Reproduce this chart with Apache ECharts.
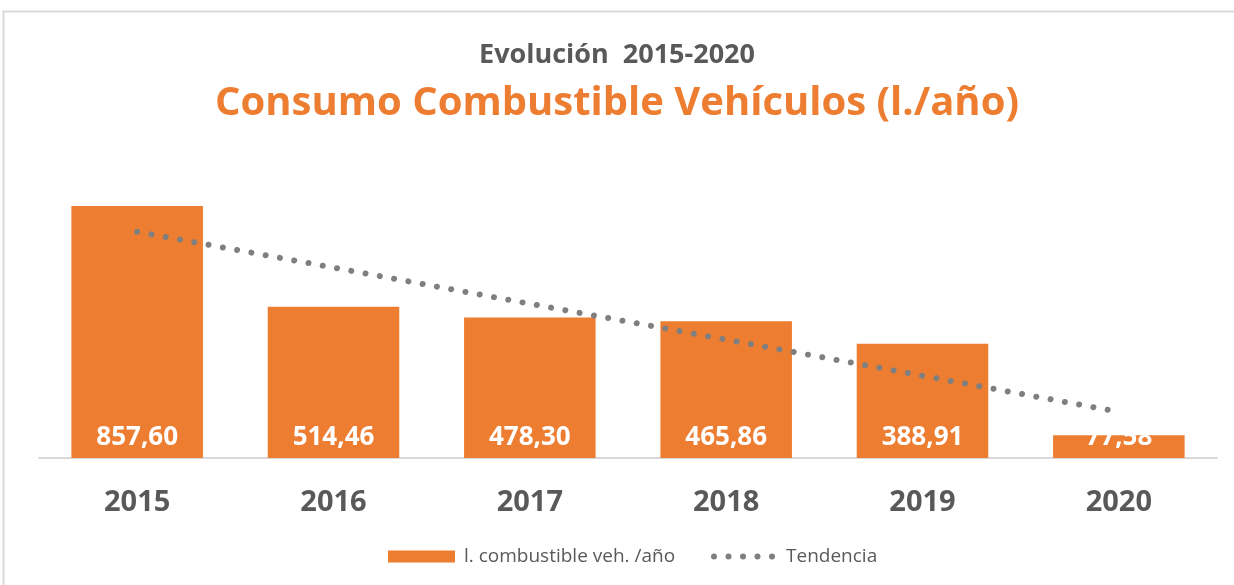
<!DOCTYPE html>
<html>
<head>
<meta charset="utf-8">
<script src="https://cdn.jsdelivr.net/npm/echarts@6/dist/echarts.min.js"></script>
<style>
  html,body{margin:0;padding:0;background:#fff;}
  #chart{width:1234px;height:585px;}
</style>
</head>
<body>
<div id="chart"></div>
<script>
// datos
var years = ['2015', '2016', '2017', '2018', '2019', '2020'];
var consumo = [857.60, 514.46, 478.30, 465.86, 388.91, 77.58];
// tendencia (línea punteada) estimada sobre la imagen
var tendencia = [770, 648, 525, 403, 280, 157];

var naranja = '#ED7D31';
var gris = '#595959';
var fuente = 'Open Sans';

// icono de leyenda: 5 puntos
var puntos = 'path://';
for (var i = 0; i < 5; i++) {
  var cx = i * 14.5;
  puntos += 'M' + cx + ',3a3,3 0 1,0 6,0a3,3 0 1,0 -6,0';
}

var chart = echarts.init(document.getElementById('chart'));

function fmt(v) {
  return v.toFixed(2).replace('.', ',');
}

chart.setOption({
  animation: false,
  textStyle: { fontFamily: fuente },
  graphic: [{
    type: 'rect',
    shape: { x: 3.5, y: 11.5, width: 1240, height: 600 },
    style: { fill: 'none', stroke: '#d9d9d9', lineWidth: 2 }
  }],
  title: [{
    text: 'Evolución  2015-2020',
    left: 'center',
    top: 37,
    textStyle: { fontFamily: fuente, fontSize: 27, fontWeight: 'bold', color: gris }
  }, {
    text: 'Consumo Combustible Vehículos (l./año)',
    left: 'center',
    top: 79,
    textStyle: { fontFamily: fuente, fontSize: 40, fontWeight: 'bold', color: naranja }
  }],
  legend: [{
    left: 388,
    top: 547,
    padding: 0,
    itemWidth: 67,
    itemHeight: 12,
    textStyle: { fontFamily: fuente, fontSize: 19, color: gris, padding: [0, 0, 0, 4] },
    data: [{ name: 'l. combustible veh. /año', icon: 'rect' }]
  }, {
    left: 711,
    top: 547,
    padding: 0,
    itemWidth: 64,
    itemHeight: 6,
    textStyle: { fontFamily: fuente, fontSize: 19, color: gris, padding: [0, 0, 0, 6] },
    data: [{ name: 'Tendencia', icon: puntos, itemStyle: { color: '#7f7f7f' } }]
  }],
  grid: { left: 39, right: 17, top: 193.6, bottom: 127 },
  xAxis: {
    type: 'category',
    data: years,
    axisLine: { lineStyle: { color: '#d9d9d9', width: 2 } },
    axisTick: { show: false },
    axisLabel: { margin: 30, fontFamily: fuente, fontSize: 29, fontWeight: 'bold', color: gris }
  },
  yAxis: {
    type: 'value',
    min: 0,
    max: 900,
    show: false,
    splitLine: { show: false }
  },
  series: [{
    name: 'l. combustible veh. /año',
    type: 'bar',
    data: consumo,
    barWidth: '67%',
    itemStyle: { color: naranja },
    label: {
      show: true,
      position: 'insideBottom',
      distance: 7,
      formatter: function (p) { return fmt(p.value); },
      fontFamily: fuente,
      fontSize: 26,
      fontWeight: 'bold',
      color: '#fff'
    }
  }, {
    name: 'Tendencia',
    type: 'line',
    data: tendencia,
    symbol: 'none',
    z: 5,
    itemStyle: { color: '#7f7f7f' },
    lineStyle: { color: '#7f7f7f', width: 6, type: [0.01, 14.5], cap: 'round' }
  }]
});
</script>
</body>
</html>
